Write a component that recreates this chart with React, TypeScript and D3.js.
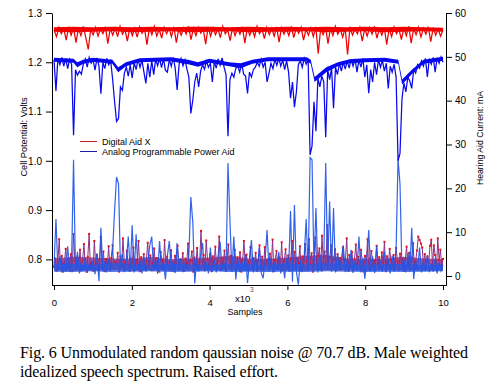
import React, { useEffect, useRef } from 'react';
import * as d3 from 'd3';

const W = 491;
const H = 381;

const xTicks = [0, 2, 4, 6, 8, 10];
const leftTicks = [0.8, 0.9, 1.0, 1.1, 1.2, 1.3];
const rightTicks = [0, 10, 20, 30, 40, 50, 60];
const legendLabels = ['Digital Aid X', 'Analog Programmable Power Aid'];
const leftTitle = 'Cell Potential: Volts';
const rightTitle = 'Hearing Aid Current: mA';
const xTitle = 'Samples';
const captionLines = [
  'Fig. 6 Unmodulated random qaussian noise @ 70.7 dB. Male weighted',
  'idealized speech spectrum. Raised effort.',
];

// Digital Aid X cell potential (V), sampled across 0..10 x10^3 samples
const digitalVolts = [
  1.266, 1.252, 1.271, 1.258, 1.268, 1.245, 1.272, 1.255, 1.270, 1.240,
  1.269, 1.254, 1.273, 1.250, 1.226, 1.267, 1.256, 1.271, 1.253, 1.268,
  1.258, 1.272, 1.238, 1.269, 1.255, 1.270, 1.252, 1.273, 1.257, 1.266,
  1.243, 1.271, 1.254, 1.269, 1.251, 1.272, 1.259, 1.268, 1.236, 1.270,
  1.256, 1.273, 1.253, 1.267, 1.249, 1.271, 1.258, 1.269, 1.252, 1.272,
  1.240, 1.268, 1.255, 1.270, 1.257, 1.273, 1.246, 1.269, 1.254, 1.271,
  1.259, 1.267, 1.237, 1.272, 1.253, 1.270, 1.256, 1.268, 1.250, 1.273,
  1.258, 1.266, 1.244, 1.271, 1.254, 1.269, 1.257, 1.272, 1.239, 1.270,
  1.255, 1.268, 1.252, 1.273, 1.258, 1.267, 1.248, 1.271, 1.256, 1.269,
  1.253, 1.272, 1.241, 1.270, 1.257, 1.268, 1.254, 1.273, 1.250, 1.269,
  1.259, 1.271, 1.245, 1.267, 1.255, 1.270, 1.252, 1.272, 1.218, 1.268,
  1.256, 1.271, 1.238, 1.269, 1.254, 1.273, 1.257, 1.268, 1.251, 1.270,
  1.216, 1.272, 1.255, 1.267, 1.258, 1.271, 1.243, 1.269, 1.253, 1.270,
  1.257, 1.273, 1.249, 1.268, 1.255, 1.271, 1.236, 1.269, 1.252, 1.272,
  1.258, 1.267, 1.246, 1.270, 1.254, 1.273, 1.239, 1.268, 1.256, 1.271,
  1.251, 1.269, 1.257, 1.272, 1.242, 1.270, 1.255, 1.268, 1.253, 1.266,
];

// Analog Programmable Power Aid cell potential (V)
const analogVolts = [
  1.205, 1.142, 1.208, 1.195, 1.210, 1.192, 1.208, 1.187, 1.206, 1.196,
  1.052, 1.185, 1.174, 1.182, 1.176, 1.196, 1.207, 1.190, 1.210, 1.198,
  1.205, 1.184, 1.209, 1.192, 1.136, 1.200, 1.187, 1.208, 1.195, 1.203,
  1.165, 1.120, 1.080, 1.086, 1.150, 1.143, 1.178, 1.190, 1.172, 1.195,
  1.168, 1.199, 1.185, 1.206, 1.190, 1.204, 1.180, 1.157, 1.198, 1.170,
  1.203, 1.175, 1.206, 1.193, 1.208, 1.189, 1.207, 1.184, 1.180, 1.205,
  1.192, 1.210, 1.188, 1.144, 1.196, 1.208, 1.193, 1.205, 1.186, 1.170,
  1.096, 1.123, 1.160, 1.178, 1.150, 1.182, 1.195, 1.186, 1.203, 1.190,
  1.198, 1.160, 1.201, 1.188, 1.207, 1.194, 1.209, 1.190, 1.175, 1.050,
  1.165, 1.178, 1.170, 1.188, 1.192, 1.180, 1.198, 1.176, 1.172, 1.137,
  1.180, 1.170, 1.185, 1.190, 1.200, 1.192, 1.206, 1.190, 1.200, 1.160,
  1.178, 1.198, 1.187, 1.206, 1.194, 1.209, 1.192, 1.205, 1.185, 1.203,
  1.180, 1.127, 1.160, 1.109, 1.140, 1.195, 1.203, 1.190, 1.208, 1.196,
  1.206, 1.012, 1.030, 1.120, 1.060, 1.168, 1.150, 1.172, 1.160, 1.048,
  1.185, 1.165, 1.188, 1.107, 1.190, 1.175, 1.198, 1.182, 1.200, 1.186,
  1.203, 1.188, 1.206, 1.192, 1.207, 1.180, 1.205, 1.190, 1.208, 1.170,
  1.195, 1.137, 1.185, 1.160, 1.200, 1.175, 1.206, 1.190, 1.204, 1.182,
  1.198, 1.147, 1.192, 1.180, 1.196, 1.170, 1.000, 1.015, 1.125, 1.158,
  1.140, 1.170, 1.162, 1.147, 1.185, 1.178, 1.195, 1.188, 1.203, 1.192,
  1.208, 1.170, 1.207, 1.196, 1.210, 1.180, 1.209, 1.198, 1.211, 1.200,
];

// Analog Programmable Power Aid current (mA)
const analogCurrent = [
  2.0, 13.0, 1.2, 4.5, 0.8, 3.2, 1.0, 6.8, 0.9, 3.5,
  26.5, 1.2, 5.5, 0.6, 3.0, 1.1, 4.2, 0.7, 2.8, 1.5,
  3.6, 0.4, 5.2, -1.2, 11.0, 1.0, 3.3, 0.8, 4.0, 1.3,
  6.0, 15.0, 22.6, 21.0, 2.0, 5.0, 0.9, 3.2, 9.0, 1.2,
  11.6, 0.8, 9.5, 1.4, 3.5, 0.6, 4.4, 1.0, 2.9, 7.0,
  9.0, 1.1, 4.0, 0.5, 8.0, 1.3, 3.1, -0.8, 4.6, 8.0,
  1.0, 3.4, 0.7, 7.5, 1.2, 4.0, 0.9, 3.0, 1.4, 5.0,
  18.0, 12.3, -1.7, 3.8, 1.0, 4.8, 7.5, 1.1, 3.2, 0.6,
  6.5, 1.0, 3.6, 0.8, 4.4, 7.8, 1.2, 3.0, 0.9, 25.8,
  12.7, 1.0, 9.0, -0.8, 4.0, 0.9, 3.5, 1.2, 5.0, -1.6,
  3.4, 8.2, 0.8, 4.2, 1.3, 6.5, 0.7, -0.5, 3.8, 10.5,
  1.0, 4.0, 0.8, 3.2, 1.2, 5.5, 0.6, 3.0, -0.5, 4.0,
  1.1, 14.8, -1.3, 16.2, 1.0, -2.0, 3.6, 0.9, 4.5, 13.0,
  1.2, 27.0, 26.5, 2.0, 15.5, 0.8, 5.0, 1.0, 4.0, 25.8,
  1.5, 17.0, 1.0, 15.5, 0.8, 5.0, 1.2, 3.8, 7.0, 0.9,
  4.0, 1.1, 6.0, 0.7, 3.5, 1.3, 9.0, 0.8, 4.2, -0.6,
  3.0, 10.5, 1.0, 4.5, 0.7, 6.8, 1.2, 3.5, 0.9, 5.6,
  1.1, 3.8, 0.6, 4.6, 1.0, 6.0, 26.7, 21.0, 1.3, 4.0,
  0.8, 5.2, 1.0, 11.0, -0.7, 3.6, 1.2, 6.5, 0.8, 3.4,
  1.1, 4.8, 0.9, 2.8, 1.0, 4.0, 0.6, 3.2, 1.2, 2.5,
];

// Digital Aid X current (mA), plotted as dots
const digitalCurrent = [
  2.1, 4.0, 1.2, 3.3, 8.4, 1.8, 4.6, 1.0, 3.0, 6.2,
  1.5, 3.8, 2.2, 5.0, 1.1, 9.6, 3.4, 1.6, 4.2, 2.0,
  6.0, 1.3, 3.6, 7.3, 2.4, 1.0, 4.4, 9.6, 1.9, 3.1,
  1.2, 8.0, 2.8, 4.8, 1.4, 3.5, 8.9, 2.0, 5.6, 1.1,
  3.9, 2.3, 6.8, 1.3, 4.1, 7.0, 1.7, 3.2, 2.5, 5.3,
  1.0, 4.5, 2.0, 8.6, 3.3, 1.5, 5.8, 2.6, 1.2, 4.0,
  2.2, 6.5, 1.4, 3.7, 2.9, 8.0, 1.1, 4.3, 2.4, 5.0,
  1.6, 3.4, 7.6, 2.1, 4.7, 1.3, 3.0, 6.3, 1.9, 4.1,
  2.7, 1.0, 5.5, 3.6, 1.7, 8.2, 2.3, 4.4, 1.4, 3.2,
  5.9, 2.0, 1.1, 4.6, 3.0, 6.9, 1.5, 3.8, 2.5, 5.2,
  1.2, 4.0, 2.8, 7.4, 1.8, 3.5, 5.6, 1.0, 4.2, 2.2,
  6.4, 1.6, 3.3, 10.3, 2.0, 4.8, 1.3, 8.1, 3.7, 2.4,
  5.0, 1.1, 4.5, 2.6, 6.7, 1.9, 3.4, 9.0, 1.4, 4.0,
  2.3, 5.8, 1.2, 3.9, 7.2, 2.0, 4.6, 1.5, 3.1, 6.0,
  1.8, 4.3, 2.5, 5.4, 1.0, 3.6, 8.0, 2.2, 4.9, 1.4,
  3.2, 6.6, 1.7, 4.1, 2.8, 5.3, 1.2, 3.5, 7.0, 2.0,
  4.4, 1.3, 6.6, 2.6, 3.8, 1.6, 5.1, 2.2, 8.3, 1.1,
  3.6, 5.7, 1.9, 4.2, 2.4, 7.7, 1.4, 3.3, 6.1, 2.0,
  4.7, 1.2, 3.9, 8.0, 2.5, 5.5, 1.6, 4.0, 2.9, 6.8,
  1.3, 4.5, 2.1, 7.3, 3.4, 1.8, 8.4, 2.7, 5.2, 1.0,
  3.7, 8.8, 2.2, 4.6, 6.3, 1.5, 9.2, 3.0, 5.6, 2.4,
  11.6, 1.9, 4.3, 7.0, 2.6, 3.8, 6.1, 1.3, 5.0, 2.8,
  4.1, 1.6, 6.5, 2.3, 3.6, 8.6, 1.2, 4.8, 2.0, 5.5,
  1.4, 3.9, 7.2, 2.5, 4.4, 1.7, 6.0, 3.1, 1.0, 4.6,
  2.7, 8.4, 1.5, 4.0, 5.7, 2.2, 3.5, 1.3, 6.9, 2.8,
  4.3, 1.8, 5.4, 3.0, 7.8, 1.1, 4.5, 2.4, 6.2, 3.6,
  1.6, 4.8, 2.1, 6.4, 3.3, 1.4, 5.1, 2.7, 4.0, 1.2,
  3.8, 6.7, 2.3, 5.3, 1.5, 4.2, 7.5, 2.0, 3.4, 5.8,
  9.0, 8.2, 7.4, 6.5, 2.6, 5.0, 1.8, 4.4, 3.0, 6.9,
  8.3, 2.2, 7.0, 4.8, 1.4, 8.6, 3.7, 6.0, 2.5, 3.9,
];

// Dense-noise cores of each trace, read per 500 samples
const bandX = [0, 0.5, 1, 1.5, 2, 2.5, 3, 3.5, 4, 4.5, 5, 5.5, 6, 6.5, 7, 7.5, 8, 8.5, 9, 9.5, 10];
const digitalVoltsHigh = [1.271, 1.272, 1.271, 1.272, 1.271, 1.272, 1.271, 1.272, 1.272, 1.271, 1.272, 1.271, 1.272, 1.271, 1.272, 1.271, 1.272, 1.271, 1.272, 1.271, 1.270];
const digitalVoltsLow = [1.262, 1.261, 1.262, 1.263, 1.261, 1.262, 1.263, 1.261, 1.262, 1.263, 1.261, 1.262, 1.262, 1.263, 1.261, 1.262, 1.263, 1.261, 1.262, 1.263, 1.262];
const digitalCurrentHigh = [4.0, 4.4, 4.2, 4.0, 3.9, 4.4, 3.8, 4.0, 4.2, 4.6, 4.0, 3.9, 4.2, 4.6, 4.8, 4.0, 3.8, 4.0, 4.4, 4.0, 3.9];
const digitalCurrentLow = [1.3, 1.2, 1.3, 1.4, 1.2, 1.3, 1.3, 1.2, 1.4, 1.3, 1.2, 1.3, 1.3, 1.2, 1.3, 1.4, 1.2, 1.3, 1.3, 1.2, 1.3];
const analogCurrentHigh = [2.6, 2.8, 2.5, 3.0, 2.6, 2.5, 2.8, 2.6, 2.5, 2.8, 2.6, 2.5, 2.9, 2.6, 3.0, 2.6, 2.5, 2.7, 2.8, 2.5, 2.6];
const analogCurrentLow = [1.0, 0.9, 1.1, 0.9, 1.0, 1.1, 0.9, 1.0, 1.1, 0.9, 1.0, 0.9, 1.0, 0.9, 1.1, 1.0, 0.9, 1.0, 0.9, 1.0, 1.1];

// Analog voltage core (moves with the recoveries after deep dips)
const analogBandX = [0, 0.5, 0.6, 0.75, 1.0, 1.5, 1.65, 1.85, 2.2, 3.0, 3.45, 3.7, 4.0, 4.5, 4.8, 5.1, 5.5, 6.0, 6.5, 6.6, 6.7, 7.0, 7.3, 7.6, 8.0, 8.5, 8.85, 8.95, 9.2, 9.5, 10];
const analogVoltsHigh = [1.209, 1.207, 1.200, 1.205, 1.209, 1.205, 1.190, 1.200, 1.208, 1.210, 1.205, 1.200, 1.207, 1.200, 1.198, 1.205, 1.210, 1.210, 1.210, 1.205, 1.170, 1.190, 1.200, 1.206, 1.208, 1.209, 1.205, 1.165, 1.185, 1.205, 1.211];
const analogVoltsLow = [1.201, 1.199, 1.190, 1.197, 1.201, 1.197, 1.180, 1.192, 1.200, 1.202, 1.196, 1.191, 1.199, 1.192, 1.188, 1.197, 1.202, 1.202, 1.202, 1.197, 1.160, 1.180, 1.192, 1.198, 1.200, 1.201, 1.197, 1.155, 1.176, 1.197, 1.203];

const SANS = 'Liberation Sans, Arial, Helvetica, sans-serif';
const SERIF = 'Liberation Serif, Times New Roman, serif';

export default function App() {
  const ref = useRef<SVGSVGElement>(null);

  useEffect(() => {
    const svg = d3.select(ref.current);
    svg.selectAll('*').remove();

    const x = d3.scaleLinear().domain([0, 10]).range([54, 443]);
    const yL = d3.scaleLinear().domain([0.748, 1.3]).range([285, 13]);
    const yR = d3.scaleLinear().domain([-2.05, 60]).range([285, 13]);

    const sx = (i: number, n: number) => x((i * 10) / (n - 1));

    const lineOn = (arr: number[], y: d3.ScaleLinear<number, number>) =>
      d3
        .line<number>()
        .x((_, i) => sx(i, arr.length))
        .y((d) => y(d))(arr);

    const bandOn = (
      xs: number[],
      lo: number[],
      hi: number[],
      y: d3.ScaleLinear<number, number>
    ) =>
      d3
        .area<number>()
        .x((_, i) => x(xs[i]))
        .y0((_, i) => y(lo[i]))
        .y1((_, i) => y(hi[i]))(xs);

    const plot = svg.append('g');

    // Digital current core + trace + dots
    plot
      .append('path')
      .attr('d', bandOn(bandX, digitalCurrentLow, digitalCurrentHigh, yR) as string)
      .attr('fill', '#9a3584')
      .attr('fill-opacity', 0.85);
    plot
      .append('path')
      .attr('d', lineOn(digitalCurrent, yR) as string)
      .attr('fill', 'none')
      .attr('stroke', '#8c2f86')
      .attr('stroke-width', 1);
    plot
      .append('g')
      .selectAll('rect')
      .data(digitalCurrent)
      .join('rect')
      .attr('x', (_, i) => sx(i, digitalCurrent.length) - 1)
      .attr('y', (d) => yR(d) - 1)
      .attr('width', 2)
      .attr('height', 2)
      .attr('fill', '#e51414');

    // Analog current core + trace
    plot
      .append('path')
      .attr('d', bandOn(bandX, analogCurrentLow, analogCurrentHigh, yR) as string)
      .attr('fill', '#2a58e4')
      .attr('fill-opacity', 0.8);
    plot
      .append('path')
      .attr('d', lineOn(analogCurrent, yR) as string)
      .attr('fill', 'none')
      .attr('stroke', '#2256e6')
      .attr('stroke-opacity', 0.92)
      .attr('stroke-width', 1.2);

    // Voltages
    plot
      .append('path')
      .attr('d', bandOn(bandX, digitalVoltsLow, digitalVoltsHigh, yL) as string)
      .attr('fill', '#f00000');
    plot
      .append('path')
      .attr('d', lineOn(digitalVolts, yL) as string)
      .attr('fill', 'none')
      .attr('stroke', '#f00000')
      .attr('stroke-width', 1.25);
    plot
      .append('path')
      .attr('d', bandOn(analogBandX, analogVoltsLow, analogVoltsHigh, yL) as string)
      .attr('fill', '#0808ee');
    plot
      .append('path')
      .attr('d', lineOn(analogVolts, yL) as string)
      .attr('fill', 'none')
      .attr('stroke', '#0808ee')
      .attr('stroke-width', 1.25);

    const styleAxis = (g: any, fs: number) => {
      g.attr('font-family', SANS).attr('font-size', fs);
      g.selectAll('line').attr('stroke', '#000');
      g.selectAll('path').attr('stroke', '#000');
      g.selectAll('text').attr('fill', '#000');
    };

    // Left axis
    const gl = svg
      .append('g')
      .attr('transform', 'translate(52,0)')
      .call(
        d3
          .axisLeft(yL)
          .tickValues(leftTicks)
          .tickFormat(d3.format('.1f') as any)
          .tickSize(6)
          .tickSizeOuter(0)
          .tickPadding(4)
      );
    styleAxis(gl, 10);

    // Right axis
    const gr = svg
      .append('g')
      .attr('transform', 'translate(446,0)')
      .call(
        d3
          .axisRight(yR)
          .tickValues(rightTicks)
          .tickFormat(d3.format('d') as any)
          .tickSize(6)
          .tickSizeOuter(0)
          .tickPadding(3)
      );
    styleAxis(gr, 10);

    // Bottom axis
    const gb = svg
      .append('g')
      .attr('transform', 'translate(0,285)')
      .call(
        d3
          .axisBottom(x)
          .tickValues(xTicks)
          .tickFormat(d3.format('d') as any)
          .tickSize(5)
          .tickSizeOuter(0)
          .tickPadding(9)
      );
    gb.select('.domain').remove();
    styleAxis(gb, 9.5);
    svg
      .append('line')
      .attr('x1', 52)
      .attr('x2', 446.5)
      .attr('y1', 285.5)
      .attr('y2', 285.5)
      .attr('stroke', '#000');

    // x10^3 and Samples
    const xl = svg.append('text').attr('font-family', SANS).attr('fill', '#000');
    xl.append('tspan').attr('x', 235).attr('y', 301.5).attr('font-size', 9.5).text('x10');
    xl.append('tspan').attr('x', 250).attr('y', 291.5).attr('font-size', 6.5).attr('fill', '#555').text('3');
    svg
      .append('text')
      .attr('x', 245)
      .attr('y', 314.5)
      .attr('text-anchor', 'middle')
      .attr('font-family', SANS)
      .attr('font-size', 9)
      .text(xTitle);

    // Axis titles
    svg
      .append('text')
      .attr('transform', 'translate(27,137) rotate(-90)')
      .attr('text-anchor', 'middle')
      .attr('font-family', SANS)
      .attr('font-size', 9.2)
      .text(leftTitle);
    svg
      .append('text')
      .attr('transform', 'translate(483,138) rotate(-90)')
      .attr('text-anchor', 'middle')
      .attr('font-family', SANS)
      .attr('font-size', 8.7)
      .text(rightTitle);

    // Legend
    const legendColors = ['#c81e1e', '#1a1aa0'];
    const lg = svg.append('g');
    legendLabels.forEach((lab, i) => {
      const yy = 141.5 + i * 10;
      lg.append('line')
        .attr('x1', 80)
        .attr('x2', 97)
        .attr('y1', yy)
        .attr('y2', yy)
        .attr('stroke', legendColors[i])
        .attr('stroke-width', 1);
      lg.append('text')
        .attr('x', 102)
        .attr('y', yy + 3.2)
        .attr('font-family', SANS)
        .attr('font-size', 9)
        .text(lab);
    });

    // Caption
    const capLens = [448, 258];
    captionLines.forEach((t, i) => {
      svg
        .append('text')
        .attr('x', 20)
        .attr('y', 357.5 + i * 19)
        .attr('font-family', SERIF)
        .attr('font-size', 16)
        .attr('textLength', capLens[i])
        .attr('lengthAdjust', 'spacing')
        .text(t);
    });
  }, []);

  return (
    <svg
      ref={ref}
      width={W}
      height={H}
      style={{ position: 'absolute', left: 0, top: 0, background: '#fff' }}
    />
  );
}
